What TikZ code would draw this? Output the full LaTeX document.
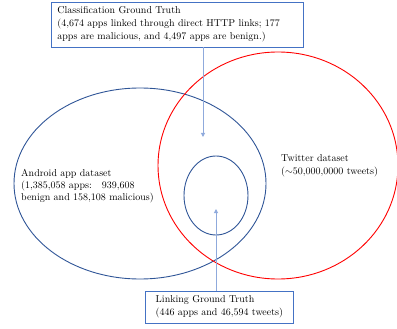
\documentclass[tikz,border=0pt]{standalone}
\usetikzlibrary{arrows.meta}
\definecolor{appblue}{HTML}{2F5597}
\definecolor{boxblue}{HTML}{4472C4}
\definecolor{arrowblue}{HTML}{8FAADC}
\begin{document}
\begin{tikzpicture}[x=1pt, y=-1pt, font=\fontsize{10}{13}\selectfont,
    gtbox/.style={draw=boxblue, line width=0.8pt, fill=white, align=left, anchor=north west, inner xsep=6pt, inner ysep=4.5pt},
    setline/.style={line width=0.9pt},
    gtarrow/.style={draw=arrowblue, line width=0.9pt, -{Triangle[length=4pt,width=4pt]}}]
  \useasboundingbox (0,0) rectangle (397,329);
  % the three sets
  \draw[setline, appblue] (140,183.5) ellipse [x radius=126pt, y radius=95.5pt];
  \draw[setline, red] (278,165.5) ellipse [x radius=120pt, y radius=113.5pt];
  \draw[setline, appblue] (216,195.5) ellipse [x radius=32pt, y radius=39.5pt];
  \node [inner sep=0pt, anchor=west, align=left, font=\fontsize{10}{12}\selectfont] (app) at (21,186) {Android app dataset\\(1,385,058 apps:\ \ \ 939,608\\benign and 158,108 malicious)};
  \node [inner sep=0pt, anchor=west, align=left] (tw) at (281,165.5) {Twitter dataset\\($\sim$50,000,0000 tweets)};
  % ground truth boxes
  \node [gtbox, text width=240pt] (cgt) at (51,2) {Classification Ground Truth\\(4,674 apps linked through direct HTTP links; 177\\apps are malicious, and 4,497 apps are benign.)};
  \node [gtbox, minimum width=148pt] (lgt) at (145,291) {Linking Ground Truth\\(446 apps and 46,594 tweets)};
  \coordinate (ctip) at (203,137);
  \coordinate (ltip) at (216,209);
  \draw[gtarrow] (cgt.south -| ctip) -- (ctip);
  \draw[gtarrow] (lgt.north -| ltip) -- (ltip);
\end{tikzpicture}
\end{document}
